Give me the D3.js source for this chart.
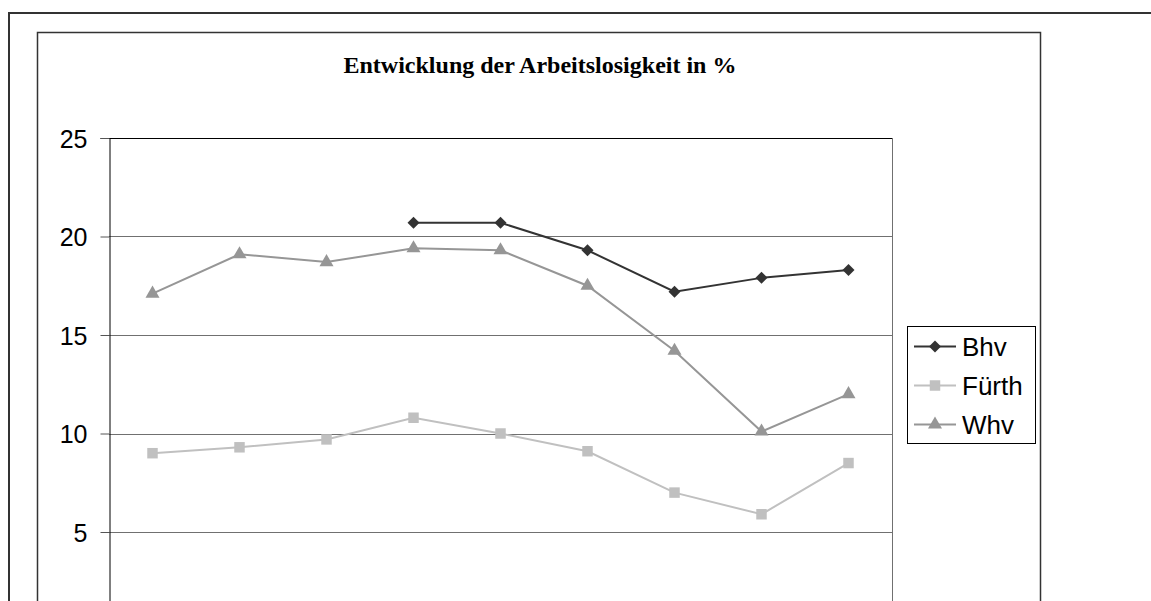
<!DOCTYPE html>
<html>
<head>
<meta charset="utf-8">
<script src="https://cdn.jsdelivr.net/npm/d3@7"></script>
<style>
  body { margin: 0; background: #fff; }
  svg { display: block; }
</style>
</head>
<body>
<script>
var width = 1151,
    height = 601;

// Kategorien (x-Achse liegt unterhalb des sichtbaren Ausschnitts)
var categories = ["1996", "1997", "1998", "1999", "2000", "2001", "2002", "2003", "2004"];
var bhv   = [null, null, null, 20.7, 20.7, 19.3, 17.2, 17.9, 18.3];
var fuerth = [9.0, 9.3, 9.7, 10.8, 10.0, 9.1, 7.0, 5.9, 8.5];
var whv   = [17.1, 19.1, 18.7, 19.4, 19.3, 17.5, 14.2, 10.1, 12.0];
var yTicks = [5, 10, 15, 20, 25];

var series = [
    { name: "Bhv", values: bhv, color: "#333333", symbol: d3.symbolSquare, size: 72, rotate: 45 },
    { name: "Fürth", values: fuerth, color: "#c0c0c0", symbol: d3.symbolSquare, size: 110, rotate: 0 },
    { name: "Whv", values: whv, color: "#969696", symbol: d3.symbolTriangle, size: 85, rotate: 0 }
];

var plot = { left: 109, right: 892, top: 138, bottom: 630.5 };

var svg = d3.select("body")
    .append("svg")
    .attr("width", width)
    .attr("height", height);

// outer frame
svg.append("rect")
    .attr("x", 9).attr("y", 13)
    .attr("width", 1160).attr("height", 700)
    .attr("fill", "none")
    .attr("stroke", "#333")
    .attr("stroke-width", 2);

// chart area frame
svg.append("rect")
    .attr("x", 37.5).attr("y", 32.5)
    .attr("width", 1003).attr("height", 700)
    .attr("fill", "none")
    .attr("stroke", "#333")
    .attr("stroke-width", 1.5);

svg.append("text")
    .attr("x", 540)
    .attr("y", 73)
    .attr("text-anchor", "middle")
    .attr("font-family", "Liberation Serif, Times New Roman, serif")
    .attr("font-weight", "bold")
    .attr("font-size", 24)
    .text("Entwicklung der Arbeitslosigkeit in %");

var x = d3.scalePoint()
    .domain(categories)
    .range([plot.left, plot.right])
    .padding(0.5);

var y = d3.scaleLinear()
    .domain([0, 25])
    .range([plot.bottom, plot.top]);

// gridlines
svg.append("g")
    .selectAll("line")
    .data(yTicks.filter(function (d) { return d < 25; }))
    .enter()
    .append("line")
    .attr("x1", plot.left)
    .attr("x2", plot.right)
    .attr("y1", function (d) { return Math.round(y(d)) + 0.5; })
    .attr("y2", function (d) { return Math.round(y(d)) + 0.5; })
    .style("stroke", "#707070")
    .style("stroke-width", 1);

// plot frame: top and right
svg.append("line")
    .attr("x1", plot.left).attr("x2", plot.right)
    .attr("y1", plot.top + 0.5).attr("y2", plot.top + 0.5)
    .style("stroke", "#000");
svg.append("line")
    .attr("x1", plot.right + 0.5).attr("x2", plot.right + 0.5)
    .attr("y1", plot.top).attr("y2", plot.bottom)
    .style("stroke", "#707070");

// y axis
var yAxis = d3.axisLeft(y)
    .tickValues(yTicks)
    .tickSize(9)
    .tickPadding(13);

var yg = svg.append("g")
    .attr("transform", "translate(" + (plot.left + 0.5) + ",0)")
    .call(yAxis);
yg.select(".domain").attr("stroke", "#000");
yg.selectAll(".tick line").attr("stroke", "#555");
yg.selectAll(".tick text")
    .attr("font-family", "Liberation Sans, Arial, sans-serif")
    .attr("font-size", 25)
    .attr("fill", "#000")
    .attr("dy", "0.36em");

var line = d3.line()
    .defined(function (d) { return d.v !== null; })
    .x(function (d) { return x(d.c); })
    .y(function (d) { return y(d.v); });

series.forEach(function (s) {
    var pts = categories.map(function (c, i) { return { c: c, v: s.values[i] }; });
    svg.append("path")
        .datum(pts)
        .attr("d", line)
        .attr("fill", "none")
        .attr("stroke", s.color)
        .attr("stroke-width", 2);

    svg.append("g")
        .selectAll("path")
        .data(pts.filter(function (d) { return d.v !== null; }))
        .enter()
        .append("path")
        .attr("d", d3.symbol().type(s.symbol).size(s.size))
        .attr("transform", function (d) {
            return "translate(" + x(d.c) + "," + y(d.v) + ") rotate(" + s.rotate + ")";
        })
        .attr("fill", s.color);
});

// legend
var legend = svg.append("g");
legend.append("rect")
    .attr("x", 907.5).attr("y", 326.5)
    .attr("width", 128).attr("height", 117)
    .attr("fill", "#fff")
    .attr("stroke", "#000");

var items = legend.selectAll("g.item")
    .data(series)
    .enter()
    .append("g")
    .attr("class", "item")
    .attr("transform", function (d, i) { return "translate(0," + (346.5 + i * 39) + ")"; });

items.append("line")
    .attr("x1", 914).attr("x2", 956)
    .attr("stroke", function (d) { return d.color; })
    .attr("stroke-width", 2);
items.append("path")
    .attr("d", function (d) { return d3.symbol().type(d.symbol).size(d.size)(); })
    .attr("transform", function (d) { return "translate(935,0) rotate(" + d.rotate + ")"; })
    .attr("fill", function (d) { return d.color; });
items.append("text")
    .attr("x", 962)
    .attr("dy", "0.36em")
    .attr("font-family", "Liberation Sans, Arial, sans-serif")
    .attr("font-size", 26)
    .text(function (d) { return d.name; });
</script>
</body>
</html>
